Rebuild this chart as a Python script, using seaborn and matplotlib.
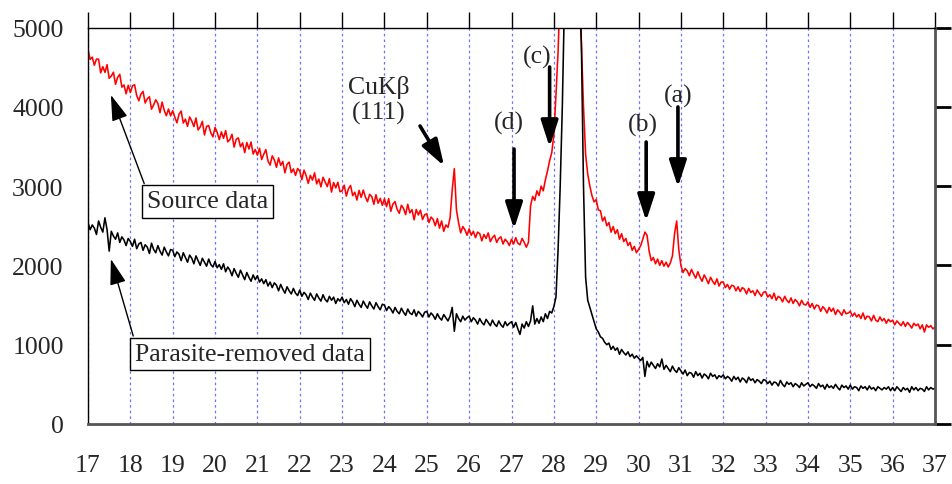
import numpy as np
import pandas as pd
import matplotlib
matplotlib.use("Agg")
import matplotlib.pyplot as plt
import seaborn as sns

# 2-theta sampling grid (degrees), 0.05 step
two_theta = np.round(np.linspace(17.0, 37.0, 401), 2)

# Raw diffractometer counts ("Source data"), one row per degree
source_counts = [
    4720, 4598, 4626, 4524, 4602, 4600, 4428, 4506, 4434, 4532, 4360, 4388, 4436, 4284, 4372, 4410, 4248, 4276, 4164, 4272,
    4180, 4264, 4278, 4142, 4076, 4160, 4194, 4048, 4102, 4126, 3970, 4024, 4088, 4042, 3926, 4060, 3954, 3888, 3972, 3886,
    3950, 3869, 3798, 3907, 3946, 3795, 3844, 3753, 3872, 3821, 3750, 3859, 3708, 3747, 3816, 3645, 3754, 3763, 3672, 3621,
    3740, 3678, 3586, 3684, 3602, 3700, 3558, 3586, 3654, 3492, 3590, 3608, 3496, 3544, 3422, 3550, 3468, 3556, 3404, 3462,
    3390, 3477, 3335, 3402, 3460, 3317, 3265, 3382, 3330, 3237, 3355, 3262, 3310, 3167, 3275, 3302, 3170, 3217, 3135, 3222,
    3190, 3081, 3202, 3133, 3034, 3135, 3076, 3167, 3028, 3089, 2990, 3111, 3052, 2993, 3094, 2925, 3046, 2977, 3048, 2929,
    2940, 3012, 2874, 2966, 3008, 2880, 2922, 2824, 2946, 2858, 2950, 2862, 2804, 2896, 2868, 2770, 2892, 2784, 2846, 2758,
    2840, 2741, 2842, 2683, 2774, 2805, 2706, 2657, 2758, 2719, 2640, 2771, 2662, 2703, 2574, 2705, 2636, 2697, 2578, 2639,
    2650, 2540, 2610, 2580, 2500, 2590, 2470, 2560, 2430, 2510, 2480, 2600, 2950, 3220, 2700, 2540, 2410, 2490, 2450, 2380,
    2460, 2380, 2430, 2350, 2420, 2400, 2310, 2390, 2340, 2410, 2300, 2350, 2380, 2290, 2340, 2360, 2270, 2330, 2300, 2250,
    2330, 2270, 2350, 2280, 2260, 2340, 2290, 2230, 2290, 2750, 2870, 2820, 2940, 2880, 3000, 2940, 3080, 3190, 3320, 3420,
    3650, 4150, 4700, 5500, 7000, 9000, 11000, 12500, 12000, 10000, 8000, 6500, 5500, 4800, 4000, 3400, 3150, 3000, 2880, 2800,
    2830, 2700, 2690, 2560, 2610, 2500, 2540, 2420, 2490, 2400, 2450, 2330, 2400, 2300, 2340, 2250, 2290, 2190, 2240, 2160,
    2200, 2250, 2330, 2420, 2380, 2180, 2060, 2100, 2020, 2080, 2000, 2060, 1990, 2040, 1980, 2030, 2120, 2400, 2560, 2200,
    2000, 1910, 1960, 1930, 1870, 1950, 1890, 1840, 1920, 1850, 1800, 1880, 1830, 1770, 1850, 1800, 1760, 1830, 1740, 1790,
    1790, 1720, 1760, 1700, 1750, 1740, 1680, 1730, 1670, 1720, 1700, 1640, 1710, 1660, 1680, 1620, 1690, 1650, 1610, 1660,
    1670, 1600, 1630, 1580, 1650, 1560, 1610, 1590, 1540, 1610, 1560, 1530, 1590, 1520, 1570, 1540, 1490, 1560, 1510, 1500,
    1540, 1470, 1520, 1450, 1500, 1490, 1420, 1480, 1450, 1400, 1470, 1420, 1460, 1380, 1440, 1410, 1370, 1440, 1390, 1400,
    1420, 1360, 1400, 1350, 1380, 1330, 1400, 1320, 1360, 1350, 1300, 1370, 1310, 1290, 1350, 1300, 1330, 1270, 1320, 1290,
    1310, 1250, 1300, 1270, 1240, 1290, 1230, 1280, 1250, 1210, 1270, 1240, 1260, 1200, 1250, 1160, 1250, 1220, 1240, 1200,
    1220,
]

# Counts after removing the parasitic scattering
cleaned_counts = [
    2540, 2450, 2510, 2470, 2390, 2560, 2480, 2420, 2600, 2450, 2180, 2430, 2370, 2330, 2410, 2290, 2360, 2320, 2250, 2340,
    2300, 2240, 2330, 2210, 2270, 2290, 2190, 2260, 2230, 2150, 2280, 2200, 2160, 2250, 2180, 2130, 2230, 2170, 2120, 2200,
    2190, 2110, 2170, 2140, 2060, 2160, 2100, 2040, 2130, 2090, 2020, 2120, 2060, 2000, 2090, 2040, 1990, 2080, 2010, 1980,
    2050, 1970, 2010, 1950, 2020, 1920, 1980, 1940, 1870, 1960, 1900, 1850, 1940, 1880, 1820, 1910, 1850, 1800, 1880, 1820,
    1870, 1790, 1830, 1770, 1820, 1740, 1790, 1720, 1780, 1750, 1680, 1760, 1700, 1650, 1730, 1680, 1640, 1710, 1650, 1620,
    1690, 1610, 1660, 1630, 1570, 1650, 1600, 1560, 1640, 1590, 1550, 1630, 1570, 1540, 1610, 1560, 1600, 1520, 1580, 1550,
    1600, 1530, 1570, 1510, 1580, 1540, 1480, 1560, 1510, 1470, 1550, 1500, 1460, 1540, 1490, 1450, 1530, 1480, 1440, 1510,
    1500, 1430, 1480, 1450, 1400, 1470, 1420, 1390, 1460, 1410, 1370, 1450, 1400, 1380, 1440, 1360, 1420, 1390, 1350, 1410,
    1420, 1350, 1400, 1370, 1320, 1390, 1340, 1310, 1380, 1340, 1300, 1360, 1470, 1170, 1390, 1330, 1290, 1360, 1310, 1340,
    1360, 1290, 1340, 1310, 1260, 1330, 1280, 1250, 1320, 1280, 1240, 1310, 1260, 1230, 1300, 1250, 1220, 1290, 1240, 1270,
    1290, 1220, 1280, 1200, 1130, 1260, 1210, 1290, 1230, 1300, 1490, 1260, 1330, 1270, 1350, 1290, 1390, 1330, 1420, 1400,
    1480, 1600, 2200, 3000, 4000, 5300, 8000, 10500, 11500, 11000, 9000, 7000, 5600, 4800, 3000, 1850, 1560, 1470, 1380, 1290,
    1200, 1160, 1100, 1080, 1030, 1000, 1020, 940, 980, 930, 960, 880, 940, 900, 870, 910, 850, 880, 830, 860,
    830, 800, 840, 600, 790, 720, 780, 740, 700, 760, 720, 820, 690, 740, 700, 660, 730, 680, 650, 710,
    670, 630, 680, 610, 650, 640, 590, 660, 610, 640, 580, 630, 610, 570, 640, 600, 620, 570, 610, 590,
    620, 570, 600, 580, 540, 600, 560, 590, 530, 580, 560, 520, 590, 550, 570, 520, 560, 540, 510, 560,
    550, 510, 540, 490, 530, 520, 480, 550, 500, 470, 530, 500, 520, 470, 510, 490, 460, 520, 480, 500,
    520, 470, 500, 480, 450, 510, 470, 490, 440, 500, 460, 480, 450, 500, 460, 430, 490, 460, 480, 440,
    490, 440, 470, 460, 420, 480, 450, 470, 430, 480, 440, 460, 420, 470, 450, 430, 460, 440, 470, 420,
    460, 420, 470, 440, 410, 460, 430, 450, 400, 470, 430, 460, 420, 450, 440, 410, 470, 430, 460, 440,
    450,
]

series_names = ["Source data", "Parasite-removed data"]
series_colors = ["#ff0000", "#000000"]
x_ticks = list(range(17, 38))
y_ticks = [0, 1000, 2000, 3000, 4000, 5000]

df = pd.concat([
    pd.DataFrame({"two_theta": two_theta, "counts": source_counts, "series": series_names[0]}),
    pd.DataFrame({"two_theta": two_theta, "counts": cleaned_counts, "series": series_names[1]}),
], ignore_index=True)

sns.set_style("white")
plt.rcParams["font.family"] = ["Liberation Serif", "DejaVu Serif"]
FS = 18.5
plt.rcParams["font.size"] = FS

fig = plt.figure(figsize=(9.52, 4.85), dpi=100)
ax = fig.add_axes([88 / 952, 1 - 425 / 485, 847 / 952, 396.5 / 485])

sns.lineplot(data=df, x="two_theta", y="counts", hue="series",
             palette=dict(zip(series_names, series_colors)),
             estimator=None, legend=False, linewidth=1.15, ax=ax)

ax.set_xlim(17, 37)
ax.set_ylim(0, 5000)
ax.set_xticks(x_ticks)
ax.set_xticklabels([str(t) for t in x_ticks])
ax.set_yticks(y_ticks)
ax.set_yticklabels([str(t) for t in y_ticks])
ax.set_xlabel("")
ax.set_ylabel("")

# dotted vertical grid at every degree
ax.xaxis.grid(True, color="#6f6fff", linestyle=(0, (2.0, 2.5)), linewidth=0.9)
ax.yaxis.grid(False)
ax.set_axisbelow(True)

for side in ["top", "left"]:
    ax.spines[side].set_color("black")
    ax.spines[side].set_linewidth(1.0)
for side in ["bottom", "right"]:
    ax.spines[side].set_color("#555555")
    ax.spines[side].set_linewidth(2.0)

ax.tick_params(axis="both", direction="out", length=11.5, width=1.0, color="black",
               top=True, right=True, labeltop=False, labelright=False)
ax.tick_params(axis="x", pad=10, labelsize=FS)
ax.tick_params(axis="y", pad=6, labelsize=FS)
for t in ax.yaxis.get_major_ticks():
    t.tick2line.set_color("#555555")
    t.tick2line.set_markeredgewidth(2.0)

# boxed series labels with thin pointer arrows
thin = dict(arrowstyle="-|>,head_length=0.8,head_width=0.25", mutation_scale=20,
            color="black", lw=1.0, relpos=(0, 1), shrinkA=1, shrinkB=0)
box = dict(boxstyle="square,pad=0.2", fc="white", ec="black", lw=1.0)
ax.annotate("Source data", xy=(17.54, 4149), xytext=(19.82, 2806),
            ha="center", va="center", fontsize=FS, bbox=box, arrowprops=thin)
ax.annotate("Parasite-removed data", xy=(17.54, 2081), xytext=(20.83, 883),
            ha="center", va="center", fontsize=FS, bbox=box, arrowprops=thin)

# peak labels with bold arrows
bold = dict(arrowstyle="-|>,head_length=0.8,head_width=0.26", mutation_scale=20,
            color="black", lw=2.6, shrinkA=0, shrinkB=0)
peak_labels = ["CuKβ\n(111)", "(d)", "(c)", "(b)", "(a)"]
label_xy = [(23.87, 4093), (26.94, 3808), (27.60, 4641), (30.10, 3783), (30.93, 4149)]
arrow_tail = [(24.84, 3758), (27.06, 3468), (27.90, 4502), (30.18, 3556), (30.93, 3998)]
arrow_tip = [(25.41, 3253), (27.06, 2459), (27.90, 3493), (30.18, 2560), (30.93, 2989)]
for lab, pos, tail, tip in zip(peak_labels, label_xy, arrow_tail, arrow_tip):
    ax.text(pos[0], pos[1], lab, ha="center", va="center", fontsize=FS,
            multialignment="center", linespacing=1.15)
    ax.annotate("", xy=tip, xytext=tail, arrowprops=bold)

fig.savefig("out.png", dpi=100)
